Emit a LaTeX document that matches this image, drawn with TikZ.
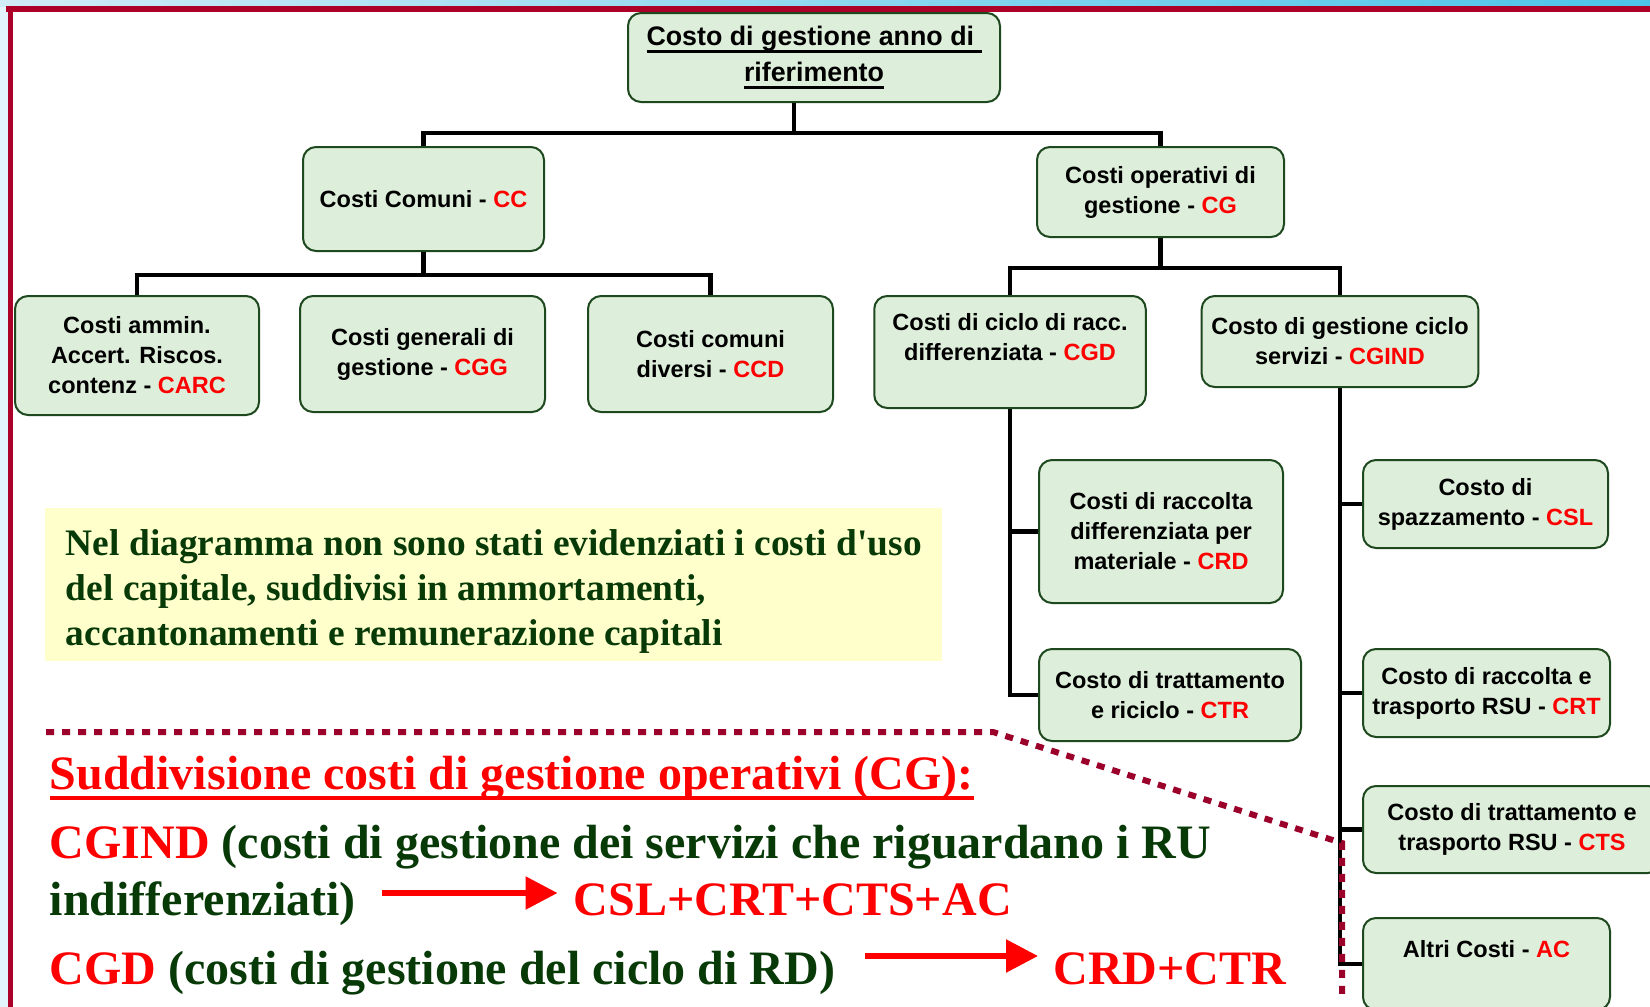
\documentclass[tikz,border=0pt]{standalone}
\usepackage{fontspec}
\newfontfamily\boxfont{Liberation Sans}
\newfontfamily\slidefont{Liberation Serif}
\usetikzlibrary{arrows.meta}

\definecolor{boxfill}{RGB}{221,238,218}
\definecolor{boxline}{RGB}{30,72,30}
\definecolor{darkgreen}{RGB}{8,58,8}
\definecolor{notefill}{RGB}{255,255,204}
\definecolor{dotred}{RGB}{155,0,42}
\definecolor{framered}{RGB}{172,0,40}
\definecolor{skyleft}{RGB}{208,236,247}
\definecolor{skyright}{RGB}{76,196,232}

\newcommand{\cod}[1]{\textcolor{red}{#1}}
\newcommand{\fatul}[3]{\leavevmode\setbox0=\hbox{#3}\rlap{\rule[-#1]{\wd0}{#2}}\box0}

\begin{document}
\begin{tikzpicture}[x=0.5pt,y=-0.5pt]

\tikzstyle{box}=[draw=boxline, fill=boxfill, line width=1pt, rounded corners=6.5pt, align=center, inner sep=0pt, font=\boxfont\bfseries\fontsize{11.75}{15}\selectfont]
\tikzstyle{link}=[line width=2.3pt]
\tikzstyle{slide}=[inner sep=0pt, anchor=base west, text=darkgreen, font=\slidefont\bfseries\fontsize{24}{28}\selectfont]
\tikzstyle{bigarrow}=[draw=red, line width=2.75pt, -{Triangle[length=16pt,width=16pt]}]
\tikzstyle{dotline}=[draw=dotred, line width=3pt, dash pattern=on 4pt off 4pt]

\useasboundingbox (0,0) rectangle (1650,1007);
\clip (0,0) rectangle (1650,1007);

% slide frame
\shade[left color=skyleft, right color=skyright] (0,0) rectangle (1650,7);
\fill[skyleft!60!white] (0,7) rectangle (8,1007);
\fill[framered] (6,6) rectangle (1650,12);
\fill[framered] (8,6) rectangle (13,1007);

% note
\node[fill=notefill, anchor=north west, minimum width=448.5pt, minimum height=76.5pt, inner sep=0pt, align=left, text=darkgreen, font=\slidefont\bfseries\fontsize{18.7}{22.5}\selectfont] (note) at (45,508)
{\rule{0pt}{20pt}Nel diagramma non sono stati evidenziati i costi d'uso\\ del capitale, suddivisi in ammortamenti,\\ accantonamenti e remunerazione capitali};

% tree
\node[box, minimum width=186pt, minimum height=44.5pt, font=\boxfont\bfseries\fontsize{13.4}{18}\selectfont] (root) at (814,57.5)
{\fatul{3.5pt}{1.5pt}{Costo di gestione anno di }\\ \fatul{3.5pt}{1.5pt}{riferimento}};
\node[box, minimum width=120.5pt, minimum height=52pt] (cc) at (423.5,199) {Costi Comuni - \cod{CC}};
\node[box, minimum width=123.5pt, minimum height=45pt] (cg) at (1160.5,192) {Costi operativi di\\ gestione - \cod{CG}};

\node[box, minimum width=122pt, minimum height=59.5pt] (carc) at (137,355.5) {Costi ammin.\\ Accert. Riscos.\\ contenz - \cod{CARC}};
\node[box, minimum width=122.5pt, minimum height=58pt] (cgg) at (422.5,354) {Costi generali di\\ gestione - \cod{CGG}};
\node[box, minimum width=122.5pt, minimum height=58pt] (ccd) at (710.5,354) {Costi comuni\\ diversi - \cod{CCD}};
\node[box, minimum width=135.75pt, minimum height=56pt] (cgd) at (1010,352) {Costi di ciclo di racc.\\ differenziata - \cod{CGD}\\ ~};
\node[box, minimum width=138.3pt, minimum height=45.5pt] (cgind) at (1340,341.5) {Costo di gestione ciclo\\ servizi - \cod{CGIND}};

\node[box, minimum width=122pt, minimum height=71.5pt] (crd) at (1161,531.5) {Costi di raccolta\\ differenziata per\\ materiale - \cod{CRD}};
\node[box, minimum width=131pt, minimum height=46pt] (ctr) at (1170,695) {Costo di trattamento\\ e riciclo - \cod{CTR}};
\node[box, minimum width=122.5pt, minimum height=44pt] (csl) at (1485.5,504) {Costo di\\ spazzamento - \cod{CSL}};
\node[box, minimum width=123.5pt, minimum height=44pt] (crt) at (1486.5,693) {Costo di raccolta e\\ trasporto RSU - \cod{CRT}};
\node[box, minimum width=149pt, minimum height=43.5pt] (cts) at (1512,829.5) {Costo di trattamento e\\ trasporto RSU - \cod{CTS}};
\node[box, minimum width=123.5pt, minimum height=46pt] (ac) at (1486.5,964) {Altri Costi - \cod{AC}\\ ~};

\coordinate (j1) at (794,133);
\coordinate (j2) at (cc.south |- 0,275);
\coordinate (j3) at (cg.south |- 0,268);

\draw[link] ([xshift=-10pt]root.south) -- (j1) -| (cc);
\draw[link] (j1) -| (cg);
\draw[link] (cc) -- (j2) -| (carc);
\draw[link] (j2) -| (ccd);
\draw[link] (cg) -- (j3) -| (cgd);
\draw[link] (j3) -| (cgind);
\draw[link] (cgd) |- (ctr);
\draw[link] (cgd.south |- crd.west) -- (crd.west);
\draw[link] (cgind) |- (ac);
\foreach \b in {csl,crt,cts}
  \draw[link] (cgind.south |- \b.west) -- (\b.west);

\draw[dotline] (46,732) -- (993,732) -- (1342,843) -- (1342,997);

% text under the line
\node[slide, text=red] (title) at (49.5,789) {\fatul{5.25pt}{1.75pt}{Suddivisione costi di gestione operativi (CG):}};
\node[slide] (indline) at (49.5,858) {\cod{CGIND} (costi di gestione dei servizi che riguardano i RU};
\node[slide] (ind) at (49.5,915) {indifferenziati)};
\node[slide, text=red] (indsum) at (573.5,915) {CSL+CRT+CTS+AC};
\node[slide] (cgdline) at (49.5,984) {\cod{CGD} (costi di gestione del ciclo di RD)};
\node[slide, text=red] (cgdsum) at (1053,984) {CRD+CTR};

\draw[bigarrow] ([xshift=13pt,yshift=11pt]ind.base east) -- ([xshift=-8pt,yshift=11pt]indsum.base west);
\draw[bigarrow] ([xshift=14.5pt,yshift=14pt]cgdline.base east) -- ([xshift=-7.5pt,yshift=14pt]cgdsum.base west);

\end{tikzpicture}
\end{document}
